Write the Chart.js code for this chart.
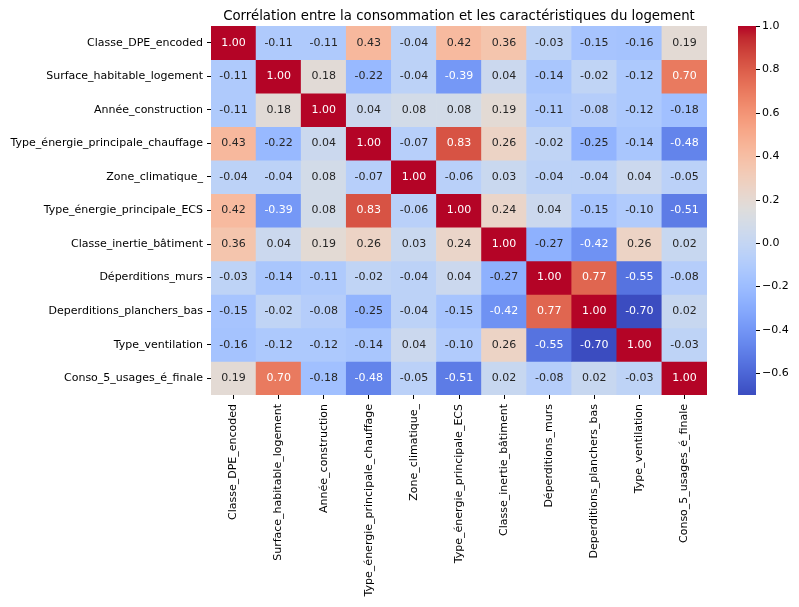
<!DOCTYPE html>
<html>
<head>
<meta charset="utf-8">
<script src="https://cdn.jsdelivr.net/npm/chart.js@4"></script>
<style>
    body { margin: 0; background: #ffffff; }
    #wrap { width: 799px; height: 607px; }
</style>
</head>
<body>
<div id="wrap"><canvas id="heatmap" width="799" height="607"></canvas></div>
<script>
const variables = ['Classe_DPE_encoded', 'Surface_habitable_logement', 'Année_construction', 'Type_énergie_principale_chauffage', 'Zone_climatique_', 'Type_énergie_principale_ECS', 'Classe_inertie_bâtiment', 'Déperditions_murs', 'Deperditions_planchers_bas', 'Type_ventilation', 'Conso_5_usages_é_finale'];

// one array per row of the correlation matrix
const corrClasseDpe = [1.00, -0.11, -0.11, 0.43, -0.04, 0.42, 0.36, -0.03, -0.15, -0.16, 0.19];
const corrSurface = [-0.11, 1.00, 0.18, -0.22, -0.04, -0.39, 0.04, -0.14, -0.02, -0.12, 0.70];
const corrAnnee = [-0.11, 0.18, 1.00, 0.04, 0.08, 0.08, 0.19, -0.11, -0.08, -0.12, -0.18];
const corrChauffage = [0.43, -0.22, 0.04, 1.00, -0.07, 0.83, 0.26, -0.02, -0.25, -0.14, -0.48];
const corrZone = [-0.04, -0.04, 0.08, -0.07, 1.00, -0.06, 0.03, -0.04, -0.04, 0.04, -0.05];
const corrEcs = [0.42, -0.39, 0.08, 0.83, -0.06, 1.00, 0.24, 0.04, -0.15, -0.10, -0.51];
const corrInertie = [0.36, 0.04, 0.19, 0.26, 0.03, 0.24, 1.00, -0.27, -0.42, 0.26, 0.02];
const corrMurs = [-0.03, -0.14, -0.11, -0.02, -0.04, 0.04, -0.27, 1.00, 0.77, -0.55, -0.08];
const corrPlanchers = [-0.15, -0.02, -0.08, -0.25, -0.04, -0.15, -0.42, 0.77, 1.00, -0.70, 0.02];
const corrVentilation = [-0.16, -0.12, -0.12, -0.14, 0.04, -0.10, 0.26, -0.55, -0.70, 1.00, -0.03];
const corrConso = [0.19, 0.70, -0.18, -0.48, -0.05, -0.51, 0.02, -0.08, 0.02, -0.03, 1.00];

const colorbarTicks = [-0.6, -0.4, -0.2, 0.0, 0.2, 0.4, 0.6, 0.8, 1.0];

const chartTitle = 'Corrélation entre la consommation et les caractéristiques du logement';

const matrix = [corrClasseDpe, corrSurface, corrAnnee, corrChauffage, corrZone, corrEcs, corrInertie, corrMurs, corrPlanchers, corrVentilation, corrConso];

// matplotlib coolwarm control points
const COOLWARM = [
    [0.2298057, 0.298717966, 0.753683153], [0.26623388, 0.353094838, 0.801466763],
    [0.30386891, 0.406535296, 0.84495867], [0.342804478, 0.458757618, 0.883725899],
    [0.38301334, 0.50941904, 0.917387822], [0.424369608, 0.558148092, 0.945619588],
    [0.46666708, 0.604562568, 0.968154911], [0.509635204, 0.648280772, 0.98478814],
    [0.552953156, 0.688929332, 0.995375608], [0.596262162, 0.726149107, 0.999836203],
    [0.639176211, 0.759599947, 0.998151185], [0.681291281, 0.788964712, 0.990363227],
    [0.722193294, 0.813952739, 0.976574709], [0.761464949, 0.834302879, 0.956945269],
    [0.798691636, 0.849786142, 0.931688648], [0.833466556, 0.860207984, 0.901068838],
    [0.865395197, 0.86541021, 0.865395561], [0.897787179, 0.848937047, 0.820880546],
    [0.924127593, 0.827384882, 0.774508472], [0.944468518, 0.800927443, 0.726736146],
    [0.958852946, 0.769767752, 0.678007945], [0.96732803, 0.734132809, 0.628751763],
    [0.969954137, 0.694266682, 0.579375448], [0.966811177, 0.650421156, 0.530263762],
    [0.958003065, 0.602842431, 0.481775914], [0.943660866, 0.551750968, 0.434243684],
    [0.923944917, 0.49730856, 0.387970225], [0.89904617, 0.439559467, 0.343229596],
    [0.869186849, 0.378313092, 0.300267182], [0.834620542, 0.312874446, 0.259301199],
    [0.795631745, 0.24128379, 0.220525627], [0.752534934, 0.157246067, 0.184115123],
    [0.705673158, 0.01555616, 0.150232812]
];

const vmin = Math.min(...matrix.flat());
const vmax = 1.0;

function coolwarm(v) {
    let t = (v - vmin) / (vmax - vmin);
    t = Math.max(0, Math.min(1, t));
    const n = COOLWARM.length - 1;
    const p = t * n;
    const i = Math.min(Math.floor(p), n - 1);
    const f = p - i;
    return [0, 1, 2].map(k => COOLWARM[i][k] + (COOLWARM[i + 1][k] - COOLWARM[i][k]) * f);
}

function toCss(c) {
    return `rgb(${Math.round(c[0] * 255)},${Math.round(c[1] * 255)},${Math.round(c[2] * 255)})`;
}

function luminance(c) {
    const lin = c.map(x => x <= 0.03928 ? x / 12.92 : Math.pow((x + 0.055) / 1.055, 2.4));
    return 0.2126 * lin[0] + 0.7152 * lin[1] + 0.0722 * lin[2];
}

function formatMinus(v) {
    let s = Math.abs(v).toFixed(1);
    return v < -1e-9 ? '\u2212' + s : s;
}

let datasets = matrix.map((row, r) => ({
    label: variables[r],
    data: row.map(() => [r, r + 1]),
    values: row,
    backgroundColor: row.map(v => toCss(coolwarm(v))),
    borderWidth: 0,
    barPercentage: 1,
    categoryPercentage: 1,
    grouped: false
}));

// writes the value in each cell
const annotatePlugin = {
    id: 'annotate',
    afterDatasetsDraw(chart) {
        const ctx = chart.ctx;
        ctx.save();
        ctx.font = '11px "DejaVu Sans"';
        ctx.textAlign = 'center';
        ctx.textBaseline = 'middle';
        chart.data.datasets.forEach((ds, r) => {
            chart.getDatasetMeta(r).data.forEach((bar, c) => {
                const v = ds.values[c];
                ctx.fillStyle = luminance(coolwarm(v)) > 0.408 ? '#262626' : '#ffffff';
                ctx.fillText(v.toFixed(2), bar.x, (bar.y + bar.base) / 2);
            });
        });
        ctx.restore();
    }
};

// colour bar drawn along the 'cb' scale, plus the title over the heatmap
const colorbarPlugin = {
    id: 'colorbar',
    afterDraw(chart) {
        const scale = chart.scales.cb;
        const ctx = chart.ctx;
        const x0 = 738, w = 18;
        const top = scale.getPixelForValue(vmax);
        const bottom = scale.getPixelForValue(vmin);
        ctx.save();
        for (let y = Math.floor(top); y < Math.ceil(bottom); y++) {
            const v = scale.getValueForPixel(y + 0.5);
            ctx.fillStyle = toCss(coolwarm(v));
            ctx.fillRect(x0, Math.max(y, top), w, Math.min(y + 1, bottom) - Math.max(y, top));
        }
        ctx.strokeStyle = '#000000';
        ctx.lineWidth = 1;
        colorbarTicks.forEach(t => {
            const y = Math.round(scale.getPixelForValue(t)) + 0.5;
            ctx.beginPath();
            ctx.moveTo(x0 + w, y);
            ctx.lineTo(x0 + w + 4, y);
            ctx.stroke();
        });

        const area = chart.chartArea;
        ctx.fillStyle = '#000000';
        ctx.font = '13.3px "DejaVu Sans"';
        ctx.textAlign = 'center';
        ctx.textBaseline = 'alphabetic';
        ctx.fillText(chartTitle, (area.left + area.right) / 2, area.top - 6);
        ctx.restore();
    }
};

Chart.defaults.font.family = '"DejaVu Sans"';
Chart.defaults.font.size = 11;
Chart.defaults.color = '#000000';

new Chart(document.getElementById('heatmap'), {
    type: 'bar',
    data: { labels: variables, datasets: datasets },
    options: {
        responsive: false,
        animation: false,
        layout: { padding: { top: 26, left: 0, right: 0, bottom: 0 } },
        plugins: {
            legend: { display: false },
            tooltip: { enabled: false },
            title: { display: false }
        },
        scales: {
            x: {
                type: 'category',
                offset: true,
                grid: { offset: false, drawOnChartArea: false, tickLength: 4, color: '#000000' },
                border: { display: false },
                ticks: { maxRotation: 90, minRotation: 90, autoSkip: false, padding: 5, color: '#000000' },
                afterFit(scale) { scale.height = 212; }
            },
            y: {
                type: 'linear',
                min: 0,
                max: 11,
                reverse: true,
                grid: { drawOnChartArea: false, tickLength: 4, color: '#000000' },
                border: { display: false },
                afterBuildTicks(scale) {
                    scale.ticks = variables.map((_, i) => ({ value: i + 0.5 }));
                },
                ticks: {
                    padding: 4,
                    color: '#000000',
                    callback: (value) => variables[Math.floor(value)]
                },
                afterFit(scale) { scale.width = 211; }
            },
            cb: {
                type: 'linear',
                position: 'right',
                min: vmin,
                max: vmax,
                grid: { display: false, drawTicks: false },
                border: { display: false },
                afterBuildTicks(scale) {
                    scale.ticks = colorbarTicks.map(t => ({ value: t }));
                },
                ticks: {
                    padding: 55,
                    color: '#000000',
                    callback: (value) => formatMinus(value)
                },
                afterFit(scale) {
                    scale.width = 92;
                    scale.paddingTop = 0;
                    scale.paddingBottom = 0;
                }
            }
        }
    },
    plugins: [annotatePlugin, colorbarPlugin]
});
</script>
</body>
</html>
